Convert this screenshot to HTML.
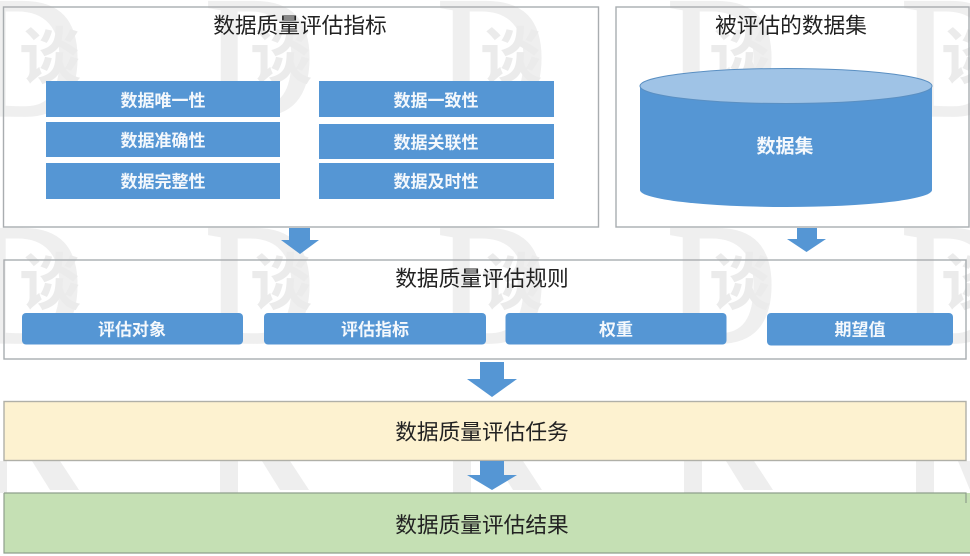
<!DOCTYPE html>
<html><head><meta charset="utf-8"><style>
html,body{margin:0;padding:0;background:#fff;width:970px;height:556px;overflow:hidden}
svg{display:block;filter:blur(.3px)}
text{font-family:"Liberation Sans","Noto Sans CJK SC",sans-serif;text-anchor:middle;dominant-baseline:central}
.t{font-size:21.7px;fill:#222}
.w{font-size:17px;fill:#f4f8fc;font-weight:700}
.d{font-family:"Liberation Serif",serif;font-size:172px;fill:#efefef;stroke:#efefef;stroke-width:3;text-anchor:start;dominant-baseline:auto}
.z{font-size:62px;fill:#ebebeb;font-weight:700}
.b{fill:#5596d4}
.f{fill:none;stroke:#a9adb0;stroke-width:1.4}
</style></head><body>
<svg width="970" height="556" viewBox="0 0 970 556" xmlns="http://www.w3.org/2000/svg">
<rect width="970" height="556" fill="#fff"/>
<g>
<text class="d" transform="translate(-27 115) scale(.88 1)">D</text><text class="d" transform="translate(205 115) scale(.88 1)">D</text><text class="d" transform="translate(437 115) scale(.88 1)">D</text><text class="d" transform="translate(667 115) scale(.88 1)">D</text><text class="d" transform="translate(901 115) scale(.88 1)">D</text>
<text class="d" transform="translate(-27 342) scale(.88 1)">D</text><text class="d" transform="translate(205 342) scale(.88 1)">D</text><text class="d" transform="translate(437 342) scale(.88 1)">D</text><text class="d" transform="translate(667 342) scale(.88 1)">D</text><text class="d" transform="translate(901 342) scale(.88 1)">D</text>
<g fill="#eeeeee">
<rect x="-10" y="461" width="17" height="32"/><path d="M32 461H60L79 490H50Z"/>
<rect x="220" y="461" width="18" height="32"/><path d="M262 461H290L309 490H280Z"/>
<rect x="453" y="461" width="18" height="32"/><path d="M495 461H523L542 490H513Z"/>
<rect x="684" y="461" width="18" height="32"/><path d="M726 461H754L773 490H744Z"/>
<rect x="916" y="461" width="18" height="32"/><path d="M958 461H970V490H970Z"/>
</g>
<text class="z" x="50" y="58">谈</text><text class="z" x="281" y="58">谈</text><text class="z" x="511" y="58">谈</text><text class="z" x="740" y="58">谈</text><text class="z" x="972" y="58">谈</text>
<text class="z" x="50" y="284">谈</text><text class="z" x="281" y="284">谈</text><text class="z" x="512" y="284">谈</text><text class="z" x="740" y="284">谈</text><text class="z" x="972" y="284">谈</text>
</g>
<rect class="f" x="3.5" y="7" width="595" height="220"/>
<rect class="f" x="616" y="7" width="353" height="220"/>
<text class="t" x="300" y="25.500">数据质量评估指标</text>
<text class="t" x="791" y="25.500">被评估的数据集</text>
<g class="b">
<rect x="46" y="81" width="234" height="36"/><rect x="46" y="122" width="234" height="35"/><rect x="46" y="163" width="234" height="36"/>
<rect x="319" y="81" width="235" height="36"/><rect x="319" y="124" width="235" height="35"/><rect x="319" y="163" width="235" height="36"/>
</g>
<text class="w" x="163" y="101">数据唯一性</text><text class="w" x="163" y="141">数据准确性</text><text class="w" x="163" y="182">数据完整性</text>
<text class="w" x="436" y="101">数据一致性</text><text class="w" x="436" y="143">数据关联性</text><text class="w" x="436" y="182">数据及时性</text>
<path class="b" d="M640 86V190A146 17 0 0 0 932 190V86Z"/>
<ellipse cx="786" cy="86" rx="146" ry="17.500" fill="#9fc3e6" stroke="#5a8fc2" stroke-width="1"/>
<text class="w" x="785" y="147" style="font-size:19px">数据集</text>
<path class="b" d="M289 228H310V240H319L300 254L281 240H289Z"/>
<path class="b" d="M797 228H817V239H826L806.500 252L787 239H797Z"/>
<rect class="f" x="4" y="260" width="962" height="99"/>
<text class="t" x="482" y="278.500">数据质量评估规则</text>
<g class="b">
<rect x="22" y="313" width="221" height="31.500" rx="4"/><rect x="264" y="313" width="222" height="31.500" rx="4"/><rect x="505.500" y="313" width="221" height="31.500" rx="4"/><rect x="767" y="313" width="186" height="32.500" rx="4"/>
</g>
<text class="w" x="132" y="330">评估对象</text><text class="w" x="375" y="330">评估指标</text><text class="w" x="616" y="330">权重</text><text class="w" x="860" y="330">期望值</text>
<path class="b" d="M480 362H504V379H517L492 397L467 379H480Z"/>
<rect x="4" y="401.500" width="962" height="59" fill="#fdf2d0" stroke="#b0b0a8" stroke-width="1.400"/>
<text class="t" x="482" y="432">数据质量评估任务</text>
<path class="b" d="M480 461H504V475H517L492 490L467 475H480Z"/>
<rect x="4" y="493" width="966" height="60" fill="#c5e0b4"/>
<path d="M4 493H966V503M4 493V553H970" fill="none" stroke="#8f9f8c" stroke-width="1.200"/>
<text class="t" x="482" y="525">数据质量评估结果</text>
</svg>
</body></html>
